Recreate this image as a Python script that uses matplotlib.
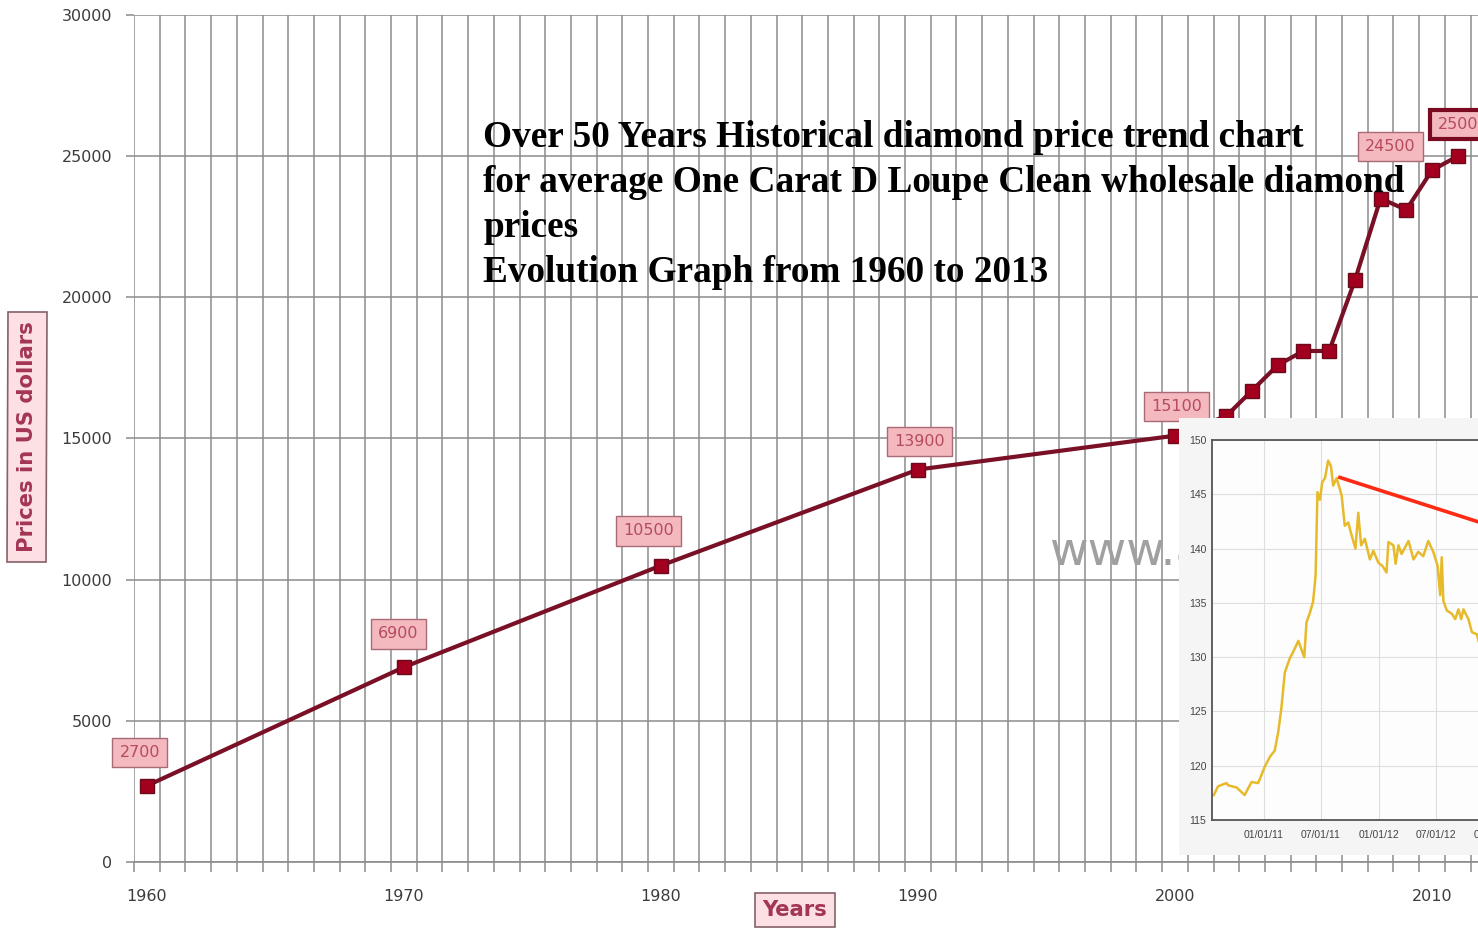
import matplotlib
matplotlib.use('Agg')
import matplotlib.pyplot as plt
import matplotlib.dates as mdates
from matplotlib.patches import Rectangle
import numpy as np

# main series: average 1 carat D loupe clean wholesale price (USD)
years = [1960, 1970, 1980, 1990, 2000, 2002, 2003, 2004, 2005, 2006, 2007, 2008, 2009, 2010, 2011]
prices = [2700, 6900, 10500, 13900, 15100, 15800, 16700, 17600, 18100, 18100, 20600, 23500, 23100, 24500, 25000]

label_years = [1960, 1970, 1980, 1990, 2000, 2010, 2011]
label_values = [2700, 6900, 10500, 13900, 15100, 24500, 25000]
label_texts = ['2700', '6900', '10500', '13900', '15100', '24500', '2500']

title_lines = ['Over 50 Years Historical diamond price trend chart',
               'for average One Carat D Loupe Clean wholesale diamond',
               'prices',
               'Evolution Graph from 1960 to 2013']

# inset series (index)
gold_dates = ['2010-07-25', '2010-08-07', '2010-09-03', '2010-09-08', '2010-10-05', '2010-10-31',
              '2010-11-22', '2010-12-13', '2010-12-23', '2011-01-03', '2011-01-19', '2011-02-04',
              '2011-02-15', '2011-02-25', '2011-03-08', '2011-03-24', '2011-04-04', '2011-04-20',
              '2011-05-09', '2011-05-16', '2011-05-27', '2011-06-06', '2011-06-14', '2011-06-20',
              '2011-06-28', '2011-07-05', '2011-07-14', '2011-07-24', '2011-08-02', '2011-08-09',
              '2011-08-20', '2011-09-05', '2011-09-15', '2011-09-26', '2011-10-07', '2011-10-19',
              '2011-10-28', '2011-11-06', '2011-11-18', '2011-12-04', '2011-12-15', '2011-12-31',
              '2012-01-13', '2012-01-26', '2012-02-01', '2012-02-17', '2012-02-24', '2012-03-04',
              '2012-03-14', '2012-04-05', '2012-04-21', '2012-05-06', '2012-05-22', '2012-06-07',
              '2012-06-23', '2012-07-07', '2012-07-15', '2012-07-20', '2012-07-25', '2012-08-05',
              '2012-08-21', '2012-09-01', '2012-09-11', '2012-09-20', '2012-09-27', '2012-10-13',
              '2012-10-24', '2012-11-09', '2012-11-14']
gold_values = [117.3, 118.1, 118.4, 118.2, 118.0, 117.3,
               118.5, 118.4, 119.1, 119.9, 120.8, 121.4,
               123.1, 125.3, 128.6, 129.9, 130.5, 131.5,
               130.0, 133.2, 134.1, 135.1, 137.5, 145.2,
               144.5, 146.1, 146.5, 148.1, 147.6, 145.8,
               146.5, 144.9, 142.1, 142.4, 141.2, 140.0,
               143.3, 140.3, 140.9, 139.0, 139.8, 138.7,
               138.4, 137.8, 140.6, 140.3, 138.6, 140.3,
               139.5, 140.7, 139.0, 139.7, 139.3, 140.7,
               139.7, 138.4, 135.7, 139.2, 135.2, 134.3,
               134.0, 133.5, 134.4, 133.5, 134.4, 133.5,
               132.3, 132.1, 131.5]
trend_dates = ['2011-08-25', '2012-11-20']
trend_values = [146.6, 142.4]

W, H = 1478, 932
fig = plt.figure(figsize=(W / 100, H / 100), dpi=100)
fig.patch.set_facecolor('white')

def fx(px):
    return px / W

def fy(py):
    return 1 - py / H

# ---- main chart ----
ax = fig.add_axes([fx(134), fy(862), fx(W - 134), (862 - 15) / H])
for s in ['top', 'right', 'left']:
    ax.spines[s].set_visible(False)
ax.spines['bottom'].set_color('#8c8c8c')
ax.spines['bottom'].set_linewidth(1.2)

ax.set_xticks(range(1960, 2011, 10))
ax.set_xticks(np.arange(1959.5, 2012, 1), minor=True)
ax.set_yticks(range(0, 30001, 5000))
ax.set_xlim(1959.5, 2011.79)
ax.set_ylim(0, 30000)
ax.tick_params(axis='x', which='major', length=0, pad=19.5, labelsize=11.5, labelcolor='#3c3c3c')
ax.tick_params(axis='x', which='minor', length=7, width=1.1, color='#8c8c8c', direction='out')
ax.tick_params(axis='y', which='major', length=6, width=1.1, color='#8c8c8c', pad=9.5,
               labelsize=11.5, labelcolor='#3c3c3c')
ax.grid(True, axis='x', which='minor', color='#8c8c8c', linewidth=1.1)
ax.grid(True, axis='y', which='major', color='#8c8c8c', linewidth=1.1)
ax.set_axisbelow(True)

ax.plot(years, prices, color='#7a1026', linewidth=3.0, zorder=3,
        marker='s', markersize=10, markerfacecolor='#a3001f', markeredgecolor='#6a0a1b',
        markeredgewidth=1.0)

label_offsets = [(-5, 24), (-4, 24), (-9, 25), (1, 20), (1, 21), (-30, 17), (0, 23)]
for i, (yr, val, txt) in enumerate(zip(label_years, label_values, label_texts)):
    last = i == len(label_years) - 1
    ax.annotate(txt, xy=(yr, val), xytext=label_offsets[i], textcoords='offset points',
                ha='center', va='center', fontsize=11.5, color='#b64a5e', zorder=4,
                bbox=dict(boxstyle='square,pad=0.45', facecolor='#f4b9bf',
                          edgecolor='#7a0a20' if last else '#a86a76',
                          linewidth=3.0 if last else 1.0),
                annotation_clip=False)

# watermark, partly hidden by the inset
ax.text(fx(1049), fy(566), 'www.a', transform=fig.transFigure, fontsize=34,
        color='#a0a0a0', ha='left', va='baseline', zorder=1)

# axis titles in pink boxes
fig.text(fx(27), fy(437), 'Prices in US dollars', rotation=90, ha='center', va='center',
         fontsize=15.2, fontweight='bold', color='#a33652',
         bbox=dict(boxstyle='square,pad=0.45', facecolor='#fde0e4', edgecolor='#86616a', linewidth=1.2))
fig.text(fx(795), fy(910), 'Years', ha='center', va='center',
         fontsize=15.2, fontweight='bold', color='#a33652',
         bbox=dict(boxstyle='square,pad=0.35', facecolor='#fde0e4', edgecolor='#86616a', linewidth=1.2))

# title block
baselines = [147, 192, 237, 282]
for line, b in zip(title_lines, baselines):
    fig.text(fx(483), fy(b), line, ha='left', va='baseline', fontsize=26.8,
             fontweight='bold', family='Liberation Serif', color='black', zorder=5)

# ---- inset chart (runs past the right edge of the picture) ----
panel = Rectangle((fx(1179), fy(855)), fx(W - 1179) + 0.01, (855 - 418) / H,
                  transform=fig.transFigure, facecolor='#f5f5f5', edgecolor='none', zorder=1)
fig.add_artist(panel)

ins = fig.add_axes([fx(1212), fy(820), fx(1540 - 1212), (820 - 440) / H], zorder=2)
ins.set_facecolor('#fdfdfd')
gd = np.array(gold_dates, dtype='datetime64[D]')
td = np.array(trend_dates, dtype='datetime64[D]')
ins.plot(gd, gold_values, color='#e6ba2a', linewidth=1.8)
ins.plot(td, trend_values, color='#ff2a14', linewidth=2.6, solid_capstyle='butt')
ins.set_yticks(range(115, 151, 5))
ins.set_xticks(np.array(['2011-01-01', '2011-07-01', '2012-01-01', '2012-07-01', '2013-01-01'],
                        dtype='datetime64[D]'))
ins.xaxis.set_major_formatter(mdates.DateFormatter('%m/%d/%y'))
ins.set_xlim(np.datetime64('2010-07-19'), np.datetime64('2013-05-29'))
ins.set_ylim(115, 150)
ins.grid(True, color='#dedede', linewidth=0.8)
ins.set_axisbelow(True)
for s in ['left', 'bottom', 'top']:
    ins.spines[s].set_color('#555555')
    ins.spines[s].set_linewidth(1.3)
ins.spines['right'].set_visible(False)
ins.tick_params(length=0, pad=4, labelsize=7.5, labelcolor='#444444')
ins.tick_params(axis='x', pad=7)
for lab in ins.get_xticklabels() + ins.get_yticklabels():
    lab.set_family('Liberation Sans')

fig.savefig('out.png', dpi=100)
